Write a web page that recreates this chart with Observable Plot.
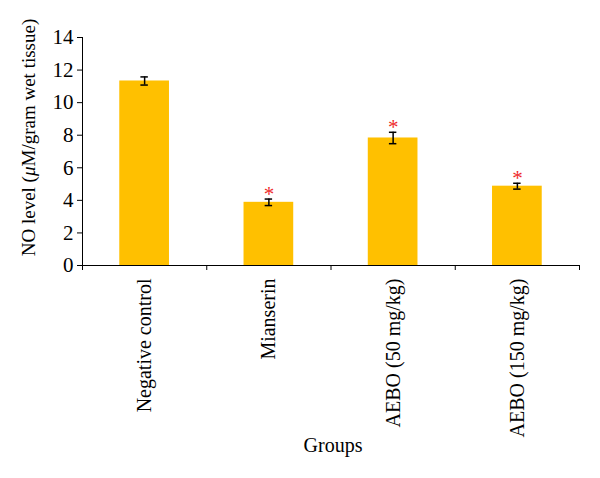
<!DOCTYPE html>
<html><head><meta charset="utf-8">
<script src="https://cdn.jsdelivr.net/npm/d3@7"></script>
<script src="https://cdn.jsdelivr.net/npm/@observablehq/plot@0.6"></script>
<style>body{margin:0;background:#fff}</style>
</head><body><div id="chart"></div>
<script>
const groups = ["Negative control", "Mianserin", "AEBO (50 mg/kg)", "AEBO (150 mg/kg)"];
const values = [11.33, 3.88, 7.83, 4.87];
const errors = [0.25, 0.2, 0.35, 0.18];
const significant = [false, true, true, true];
const yTicks = [0, 2, 4, 6, 8, 10, 12, 14];
const yLabel = "NO level (μM/gram wet tissue)";
const xLabel = "Groups";

const data = groups.map((g, i) => ({g, i, v: values[i], e: errors[i], sig: significant[i]}));
const font = "'Liberation Serif', 'Times New Roman', serif";
const cap = 0.03;

const chart = Plot.plot({
  width: 600, height: 478,
  marginLeft: 82, marginRight: 21, marginTop: 37, marginBottom: 213,
  style: {fontFamily: font, fontSize: "20px", color: "#000", background: "#fff", overflow: "visible"},
  x: {domain: [0, groups.length], axis: null},
  y: {domain: [0, 14], axis: null},
  marks: [
    Plot.rectY(data, {x1: d => d.i + 0.3, x2: d => d.i + 0.7, y1: 0, y2: "v", fill: "#FFC000"}),
    Plot.ruleX(data, {x: d => d.i + 0.5, y1: d => d.v - d.e, y2: d => d.v + d.e, stroke: "#000", strokeWidth: 1.5}),
    Plot.ruleY(data, {x1: d => d.i + 0.5 - cap, x2: d => d.i + 0.5 + cap, y: d => d.v + d.e, stroke: "#000", strokeWidth: 1.5}),
    Plot.ruleY(data, {x1: d => d.i + 0.5 - cap, x2: d => d.i + 0.5 + cap, y: d => d.v - d.e, stroke: "#000", strokeWidth: 1.5}),
    Plot.text(data.filter(d => d.sig), {x: d => d.i + 0.5, y: d => d.v + d.e, text: () => "*", dy: -5, fill: "#ee2a2a", fontSize: 21}),
    Plot.axisY({ticks: yTicks, tickSize: 5, tickPadding: 4, label: null, fontSize: 21, stroke: "#000"}),
    Plot.axisX({ticks: d3.range(groups.length + 1), tickSize: 5, tickFormat: () => "", label: null, stroke: "#000"}),
    Plot.ruleX([0], {stroke: "#000"}),
    Plot.ruleY([0], {stroke: "#000"}),
    Plot.text(data, {x: d => d.i + 0.5, y: 0, text: "g", rotate: -90, textAnchor: "end", dy: 13, fontSize: 20}),
    Plot.text([xLabel], {frameAnchor: "bottom", lineAnchor: "middle", dy: 180, dx: 2, fontSize: 20}),
    Plot.text([yLabel], {frameAnchor: "left", textAnchor: "middle", lineAnchor: "middle", rotate: -90, dx: -54, dy: -14, fontSize: 19})
  ]
});

d3.select(chart).selectAll("text").filter(function () { return this.textContent === yLabel; })
  .each(function () {
    const t = d3.select(this);
    const [a, b] = yLabel.split("μ");
    t.text(null);
    t.append("tspan").text(a);
    t.append("tspan").attr("font-style", "italic").text("μ");
    t.append("tspan").text(b);
  });

document.getElementById("chart").appendChild(chart);
</script>
</body></html>
